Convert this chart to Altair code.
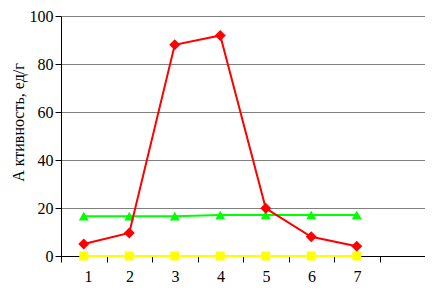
import altair as alt
import pandas as pd

samples = [1, 2, 3, 4, 5, 6, 7]
red_vals = [5.0, 9.6, 88.0, 91.9, 19.9, 8.0, 4.1]
green_vals = [16.6, 16.6, 16.6, 17.1, 17.1, 17.1, 17.1]
yellow_vals = [0, 0, 0, 0, 0, 0, 0]

y_title = "А ктивность, ед/г"
font = "Times New Roman, Liberation Serif, serif"

def df(vals):
    return pd.DataFrame({"x": samples, "y": vals})

xscale = alt.Scale(domain=[0.5, 8.5], nice=False, zero=False)
yscale = alt.Scale(domain=[0, 100], nice=False)

xaxis = alt.Axis(
    values=[0.5, 1.5, 2.5, 3.5, 4.5, 5.5, 6.5, 7.5, 8.5],
    labelExpr="datum.value < 7 ? format(datum.value + 0.5, 'd') : ''",
    labelOffset=23,
    grid=False, title=None, domainColor="black", tickColor="black",
    tickSize=6, labelFont=font, labelFontSize=16, labelColor="black",
    labelPadding=6, domainWidth=1, tickWidth=1,
)
yaxis = alt.Axis(
    values=[0, 20, 40, 60, 80, 100], grid=True, gridColor="#808080",
    gridWidth=1, domainColor="black", tickColor="black", tickSize=6,
    labelFont=font, labelFontSize=16, labelColor="black", labelPadding=2,
    title=y_title, titleFont=font, titleFontSize=16, titleFontWeight="normal",
    titleColor="black", titlePadding=3, titleY=106,
)

def series(vals, color, shape, size):
    base = alt.Chart(df(vals))
    line = base.mark_line(color=color, strokeWidth=2).encode(
        x=alt.X("x:Q", scale=xscale, axis=xaxis),
        y=alt.Y("y:Q", scale=yscale, axis=yaxis),
    )
    pts = base.mark_point(color=color, shape=shape, size=size, filled=True, opacity=1).encode(
        x=alt.X("x:Q", scale=xscale, axis=xaxis),
        y=alt.Y("y:Q", scale=yscale, axis=yaxis),
    )
    return line + pts

chart = alt.layer(
    series(yellow_vals, "#FFFF00", "square", 80),
    series(green_vals, "#00FF00", "triangle-up", 100),
    series(red_vals, "#FF0000", "diamond", 120),
).properties(
    width=364, height=240,
    autosize=alt.AutoSizeParams(type="none"),
    padding={"left": 53, "top": 8, "right": 0, "bottom": 28},
    background="white",
).configure_view(stroke=None)

chart.save("out.html", embed_options={"renderer": "svg", "actions": False})
